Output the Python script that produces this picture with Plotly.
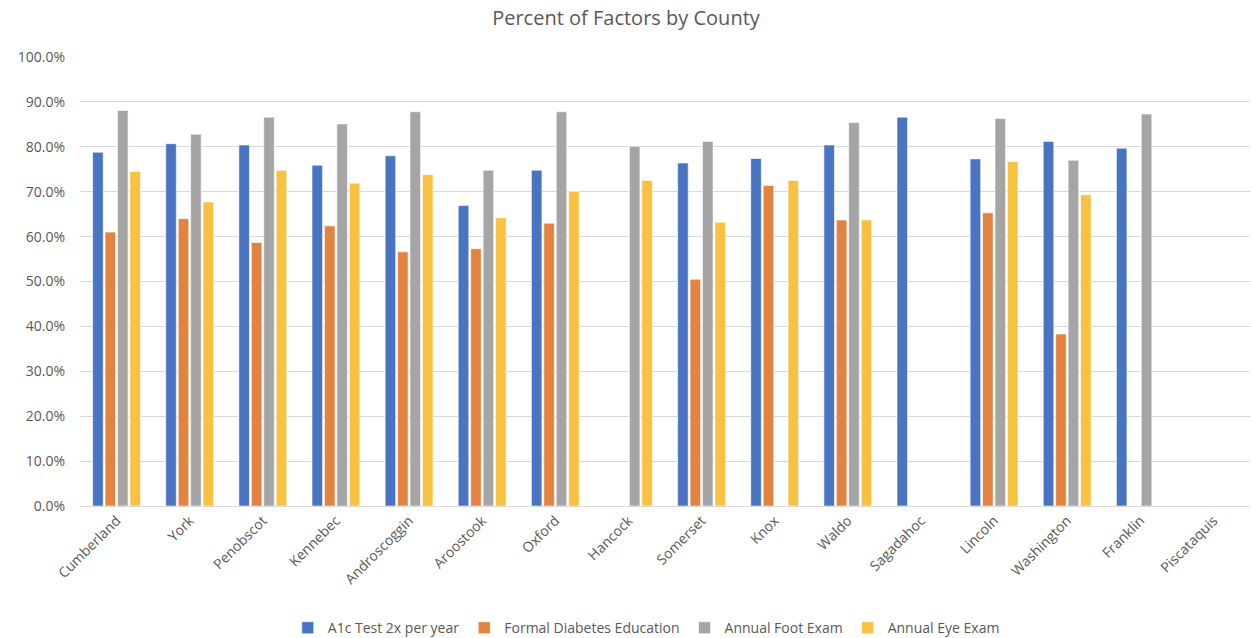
import plotly.graph_objects as go

counties = ["Cumberland", "York", "Penobscot", "Kennebec", "Androscoggin", "Aroostook",
            "Oxford", "Hancock", "Somerset", "Knox", "Waldo", "Sagadahoc", "Lincoln",
            "Washington", "Franklin", "Piscataquis"]

a1c = [78.8, 80.7, 80.4, 75.9, 78.0, 66.9, 74.8, None, 76.4, 77.4, 80.4, 86.6, 77.3, 81.2, 79.7, None]
education = [61.0, 64.0, 58.7, 62.4, 56.6, 57.3, 63.0, None, 50.5, 71.4, 63.7, None, 65.3, 38.3, None, None]
foot = [88.1, 82.8, 86.6, 85.1, 87.8, 74.8, 87.8, 80.1, 81.2, None, 85.4, None, 86.3, 77.0, 87.3, None]
eye = [74.5, 67.7, 74.8, 71.9, 73.8, 64.2, 70.0, 72.5, 63.2, 72.5, 63.7, None, 76.7, 69.3, None, None]

series_names = ["A1c Test 2x per year", "Formal Diabetes Education", "Annual Foot Exam", "Annual Eye Exam"]
series_vals = [a1c, education, foot, eye]
colors = ["#4874C1", "#E2843F", "#A5A5A5", "#F8C141"]

fig = go.Figure()
for name, vals, col in zip(series_names, series_vals, colors):
    fig.add_trace(go.Bar(
        x=counties,
        y=[v / 100 if v is not None else None for v in vals],
        name=name,
        marker=dict(color=col, line=dict(color="rgba(255,255,255,0.6)", width=1)),
    ))

font_fam = "Open Sans, Liberation Sans, sans-serif"
fig.update_layout(
    width=1252, height=638,
    barmode="group", bargap=0.32, bargroupgap=0.15,
    plot_bgcolor="white", paper_bgcolor="white",
    margin=dict(l=80, r=2, t=57, b=132, autoexpand=False),
    title=dict(text="Percent of Factors by County", x=0.5, xanchor="center",
               y=0.972, yanchor="middle",
               font=dict(family=font_fam, size=20, color="#595959")),
    font=dict(family=font_fam, size=14, color="#595959"),
    showlegend=True,
    legend=dict(orientation="h", x=0.484, xanchor="center", y=-0.272, yanchor="middle",
                font=dict(family=font_fam, size=14, color="#595959"),
                itemwidth=30, tracegroupgap=0),
    yaxis=dict(range=[0, 1.0], dtick=0.1, tickformat=".1%", showgrid=True,
               gridcolor="#D9D9D9", gridwidth=1, zeroline=False, ticks="",
               ticklabelstandoff=14,
               automargin=False, tickfont=dict(size=14, color="#595959")),
    xaxis=dict(tickangle=-45, showline=True, linecolor="#D9D9D9", linewidth=1,
               ticks="", automargin=False, tickfont=dict(size=14, color="#595959")),
)

fig.write_html("out.html")
